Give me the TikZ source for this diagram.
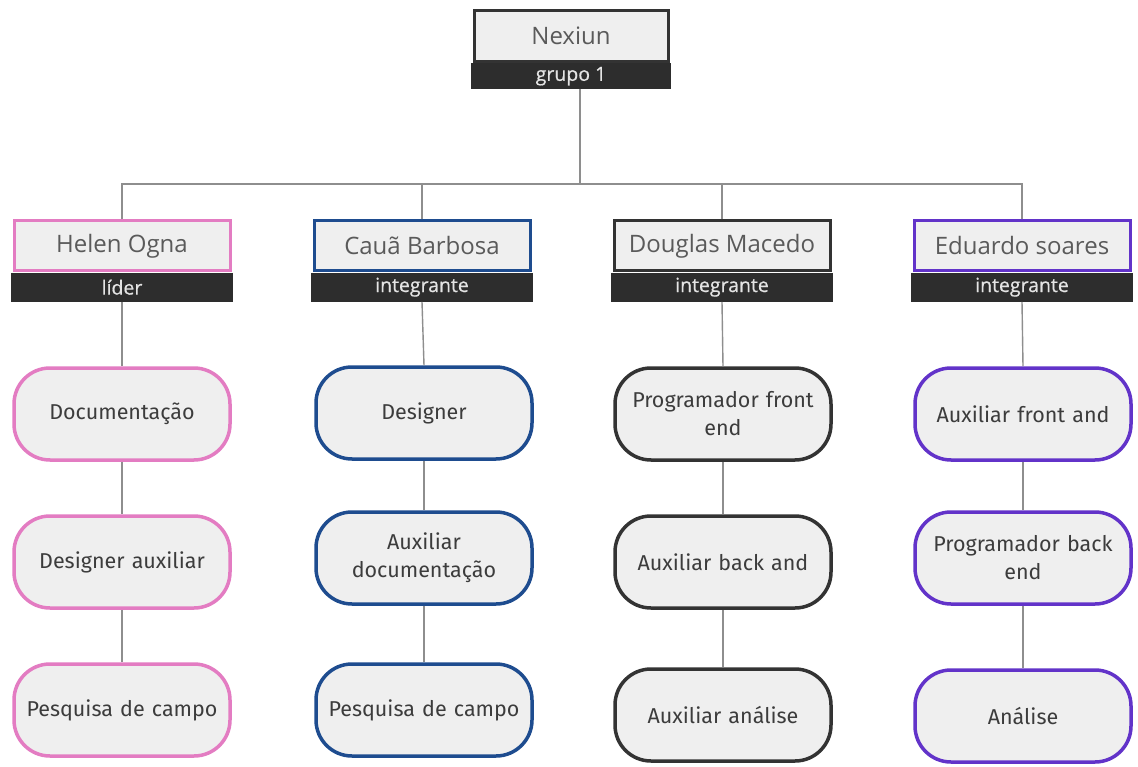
\documentclass[tikz,border=0pt]{standalone}
\usepackage{fontspec}
\setmainfont{Open Sans}
\newfontfamily\rolefont{Fira Sans}
\newfontfamily\bandfont[FakeBold=0.6]{Open Sans}
\definecolor{pinkc}{HTML}{E37CC2}
\definecolor{bluec}{HTML}{1E4C8F}
\definecolor{darkc}{HTML}{333333}
\definecolor{purplec}{HTML}{6233C9}
\definecolor{lightfill}{HTML}{EFEFEF}
\definecolor{bandfill}{HTML}{2D2D2D}
\definecolor{bandtext}{HTML}{E4E4E4}
\definecolor{nametext}{HTML}{5A5A5A}
\definecolor{roletext}{HTML}{3C3C3C}
\definecolor{linec}{HTML}{8E8E8E}
\begin{document}
\begin{tikzpicture}[x=1pt,y=-1pt,
  namebox/.style={draw=#1, line width=3pt, fill=lightfill, minimum width=216pt,
    minimum height=50pt, inner sep=0pt, text=nametext, font=\fontsize{24}{28}\selectfont},
  band/.style={fill=bandfill, minimum width=222pt, minimum height=29pt, inner sep=0pt,
    text=bandtext, font=\bandfont\fontsize{19.5}{22}\selectfont},
  taskbox/.style={draw=#1, line width=3.5pt, fill=lightfill, rounded corners=36pt,
    minimum width=216pt, minimum height=92pt, inner sep=0pt, align=center,
    text width=204pt, text=roletext, font=\rolefont\fontsize{21.5}{28}\selectfont},
  link/.style={draw=linec, line width=1.4pt}]
\useasboundingbox (0,0) rectangle (1138,767);
\fill[white] (0,0) rectangle (1138,767);

% root
\node[namebox=darkc, minimum width=194pt, minimum height=51pt] (root) at (571,36) {Nexiun};
\node[band, minimum width=200pt, minimum height=26pt, anchor=north] (rootb) at (root.south) {grupo 1};
\coordinate (bus) at (580,184);

% members
\node[namebox=pinkc]   (h1) at (122,246) {Helen Ogna};
\node[namebox=bluec]   (h2) at (422,246) {Cauã Barbosa};
\node[namebox=darkc]   (h3) at (722,246) {Douglas Macedo};
\node[namebox=purplec] (h4) at (1022,246) {Eduardo soares};
\node[band, anchor=north] (b1) at (h1.south) {líder};
\node[band, anchor=north] (b2) at (h2.south) {integrante};
\node[band, anchor=north] (b3) at (h3.south) {integrante};
\node[band, anchor=north] (b4) at (h4.south) {integrante};

% tasks
\node[taskbox=pinkc] (t11) at (122,414) {Documentação};
\node[taskbox=pinkc] (t12) at (122,562) {Designer auxiliar};
\node[taskbox=pinkc] (t13) at (122,710) {Pesquisa de campo};

\node[taskbox=bluec] (t21) at (424,413) {Designer};
\node[taskbox=bluec] (t22) at (424,558) {Auxiliar\\documentação};
\node[taskbox=bluec] (t23) at (424,710) {Pesquisa de campo};

\node[taskbox=darkc] (t31) at (723,414) {Programador front\\end};
\node[taskbox=darkc] (t32) at (723,562) {Auxiliar back and};
\node[taskbox=darkc] (t33) at (723,715) {Auxiliar análise};

\node[taskbox=purplec] (t41) at (1023,414) {Auxiliar front and};
\node[taskbox=purplec] (t42) at (1023,558) {Programador back\\end};
\node[taskbox=purplec] (t43) at (1023,716) {Análise};

% connectors
\draw[link] (rootb.south -| bus) -- (bus);
\foreach \h in {h1,h2,h3,h4} \draw[link] (\h.north) |- (bus);
\foreach \c in {1,2,3,4} {
  \draw[link] (b\c.south) -- (t\c1.north);
  \draw[link] (t\c1.south) -- (t\c2.north);
  \draw[link] (t\c2.south) -- (t\c3.north);
}
\end{tikzpicture}
\end{document}
